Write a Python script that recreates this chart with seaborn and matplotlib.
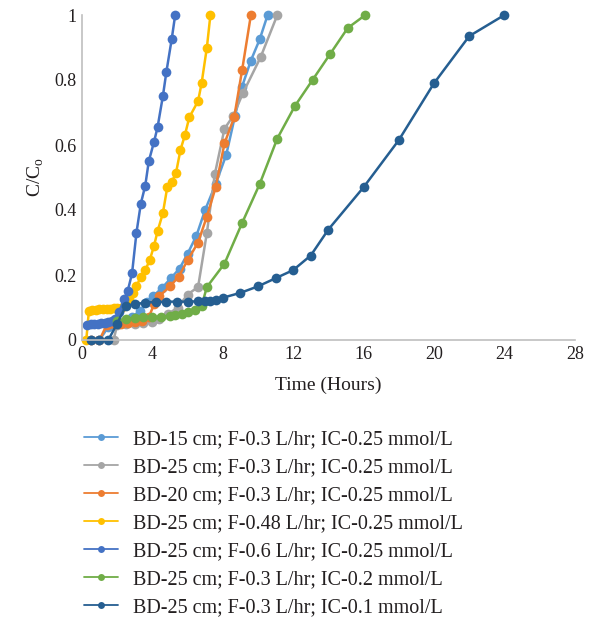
import numpy as np
import pandas as pd
import matplotlib
matplotlib.use('Agg')
import matplotlib.pyplot as plt
import seaborn as sns

# ==================== DONNEES ====================

labels = [
    "BD-15 cm; F-0.3 L/hr; IC-0.25 mmol/L",
    "BD-25 cm; F-0.3 L/hr; IC-0.25 mmol/L",
    "BD-20 cm; F-0.3 L/hr; IC-0.25 mmol/L",
    "BD-25 cm; F-0.48 L/hr; IC-0.25 mmol/L",
    "BD-25 cm; F-0.6 L/hr; IC-0.25 mmol/L",
    "BD-25 cm; F-0.3 L/hr; IC-0.2 mmol/L",
    "BD-25 cm; F-0.3 L/hr; IC-0.1 mmol/L",
]
colors = ['#5b9bd5', '#a5a5a5', '#ed7d31', '#ffc000', '#4472c4', '#70ad47', '#255e91']

t_bd15 = [0.5, 1.0, 1.5, 2.0, 2.5, 2.85, 3.3, 3.7, 4.05, 4.55, 5.05, 5.55, 6.0, 6.5, 7.0, 7.6,
          8.2, 8.7, 9.1, 9.6, 10.1, 10.55]
c_bd15 = [0, 0, 0.04, 0.05, 0.055, 0.07, 0.09, 0.117, 0.135, 0.16, 0.19, 0.22, 0.265, 0.32, 0.4, 0.48,
          0.57, 0.69, 0.78, 0.86, 0.925, 1.0]

t_bd25 = [1.8, 2.0, 2.5, 3.0, 3.5, 4.0, 4.4, 4.9, 5.45, 6.0, 6.6, 7.1, 7.55, 8.1, 8.6, 9.15, 10.15, 11.1]
c_bd25 = [0, 0.045, 0.048, 0.05, 0.052, 0.055, 0.065, 0.08, 0.1, 0.14, 0.163, 0.33, 0.51, 0.65, 0.69,
          0.76, 0.87, 1.0]

t_bd20 = [0.5, 1.0, 1.4, 1.8, 2.2, 2.6, 3.0, 3.4, 3.8, 4.1, 4.4, 5.0, 5.5, 6.0, 6.6, 7.1, 7.6, 8.1,
          8.65, 9.1, 9.6]
c_bd20 = [0, 0, 0.045, 0.048, 0.05, 0.052, 0.055, 0.06, 0.07, 0.11, 0.135, 0.165, 0.195, 0.245, 0.3,
          0.38, 0.47, 0.605, 0.685, 0.83, 1.0]

t_f048 = [0.25, 0.4, 0.6, 0.8, 1.0, 1.2, 1.4, 1.6, 1.8, 2.0, 2.2, 2.45, 2.7, 2.9, 3.1, 3.35, 3.6, 3.85,
          4.1, 4.3, 4.6, 4.85, 5.1, 5.35, 5.6, 5.85, 6.1, 6.6, 6.8, 7.1, 7.3]
c_f048 = [0, 0.09, 0.092, 0.092, 0.094, 0.095, 0.095, 0.096, 0.097, 0.098, 0.1, 0.11, 0.125, 0.145,
          0.165, 0.195, 0.215, 0.245, 0.29, 0.335, 0.39, 0.47, 0.485, 0.515, 0.585, 0.63, 0.685, 0.735,
          0.79, 0.9, 1.0]

t_f06 = [0.3, 0.5, 0.7, 0.9, 1.1, 1.3, 1.5, 1.7, 1.9, 2.1, 2.4, 2.6, 2.85, 3.1, 3.35, 3.6, 3.8, 4.1,
         4.3, 4.6, 4.8, 5.1, 5.3]
c_f06 = [0.045, 0.05, 0.05, 0.05, 0.052, 0.052, 0.055, 0.06, 0.065, 0.085, 0.125, 0.15, 0.205, 0.33,
         0.42, 0.475, 0.55, 0.61, 0.655, 0.75, 0.825, 0.925, 1.0]

t_ic02 = [2.0, 2.5, 3.0, 3.5, 4.0, 4.5, 5.0, 5.3, 5.7, 6.0, 6.4, 6.8, 7.1, 8.1, 9.1, 10.1, 11.1, 12.1,
          13.1, 14.1, 15.1, 16.1]
c_ic02 = [0.06, 0.065, 0.068, 0.07, 0.07, 0.072, 0.074, 0.077, 0.08, 0.085, 0.092, 0.105, 0.163, 0.235,
          0.36, 0.48, 0.62, 0.72, 0.8, 0.88, 0.96, 1.0]

t_ic01 = [0.5, 1.0, 1.5, 2.0, 2.5, 3.0, 3.6, 4.2, 4.8, 5.4, 6.0, 6.6, 7.0, 7.3, 7.6, 8.0, 9.0, 10.0,
          11.0, 12.0, 13.0, 14.0, 16.0, 18.0, 20.0, 22.0, 24.0]
c_ic01 = [0, 0, 0, 0.05, 0.105, 0.11, 0.115, 0.117, 0.118, 0.118, 0.118, 0.119, 0.12, 0.121, 0.123,
          0.13, 0.145, 0.165, 0.19, 0.215, 0.26, 0.34, 0.47, 0.615, 0.79, 0.935, 1.0]

series_t = [t_bd15, t_bd25, t_bd20, t_f048, t_f06, t_ic02, t_ic01]
series_c = [c_bd15, c_bd25, c_bd20, c_f048, c_f06, c_ic02, c_ic01]

x_ticks = [0, 4, 8, 12, 16, 20, 24, 28]
y_ticks = [0, 0.2, 0.4, 0.6, 0.8, 1]
y_ticklabels = ['0', '0.2', '0.4', '0.6', '0.8', '1']

# ==================== GRAPHIQUE ====================

rows = []
for lab, ts, cs in zip(labels, series_t, series_c):
    for t, c in zip(ts, cs):
        rows.append({'Time': t, 'C': c, 'Serie': lab})
df = pd.DataFrame(rows)

sns.set_style('white')
plt.rcParams['font.family'] = ['Liberation Serif', 'DejaVu Serif']
plt.rcParams['mathtext.fontset'] = 'custom'
plt.rcParams['mathtext.rm'] = 'Liberation Serif'

fig = plt.figure(figsize=(5.89, 6.25), dpi=100)
ax = fig.add_axes([0.139, 0.456, 0.837, 0.52])

sns.lineplot(data=df, x='Time', y='C', hue='Serie', hue_order=labels,
             palette=colors, sort=False, estimator=None, marker='o',
             markersize=7, markeredgewidth=0, linewidth=1.8, ax=ax)

ax.set_xlim(0, 28)
ax.set_ylim(0, 1)
ax.set_xticks(x_ticks)
ax.set_yticks(y_ticks)
ax.set_yticklabels(y_ticklabels)
ax.tick_params(length=0, labelsize=13, colors='#231f20', pad=4)
ax.set_xlabel('Time (Hours)', fontsize=14, color='#231f20', labelpad=10)
ax.set_ylabel(r'C/C$_\mathregular{o}$', fontsize=14, color='#231f20', labelpad=6)

for side in ['top', 'right']:
    ax.spines[side].set_visible(False)
for side in ['left', 'bottom']:
    ax.spines[side].set_color('#bfbfbf')
    ax.spines[side].set_linewidth(1.2)
for line in ax.lines:
    line.set_clip_on(False)

handles, labs = ax.get_legend_handles_labels()
ax.get_legend().remove()
for h in handles:
    h.set_markersize(5)
    h.set_linewidth(1.3)
fig.legend(handles, labs, loc='upper left', bbox_to_anchor=(0.112, 0.341),
           frameon=False, fontsize=14.5, handlelength=1.7, handletextpad=0.75,
           labelspacing=0.44, labelcolor='#231f20')

plt.savefig('out.png', dpi=100)
plt.close()
